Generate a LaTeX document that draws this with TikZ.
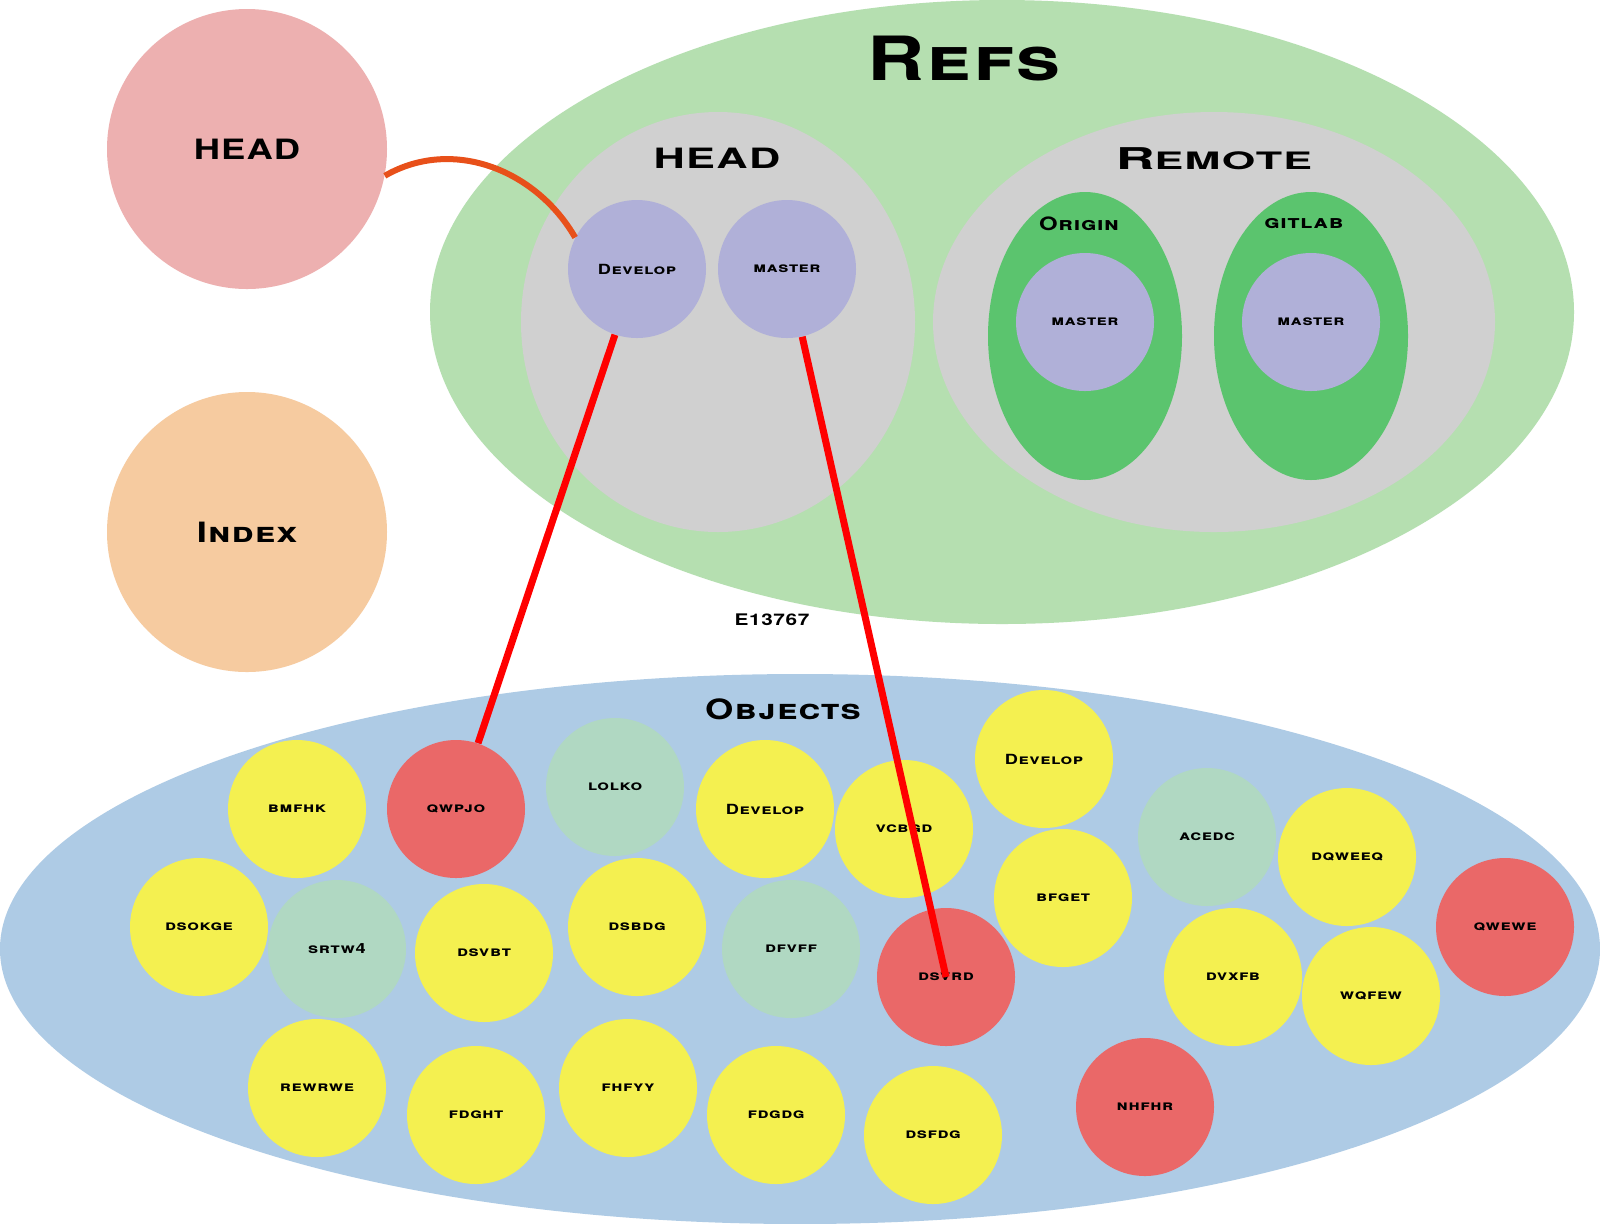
\documentclass[tikz,border=0pt]{standalone}
\usepackage{fontspec}
\setmainfont{TeX Gyre Heros}[FakeStretch=1.3,LetterSpace=4]
\usepackage{xcolor}
\usepackage{graphicx}
\usepackage{tikz}

\definecolor{headpink}{HTML}{EDB0B0}
\definecolor{indexpeach}{HTML}{F6CBA0}
\definecolor{refsgreen}{HTML}{B5DFB0}
\definecolor{boxgray}{HTML}{D0D0D0}
\definecolor{remotegreen}{HTML}{5BC46E}
\definecolor{branchlilac}{HTML}{B0B0D8}
\definecolor{objblue}{HTML}{AECBE5}
\definecolor{objyellow}{HTML}{F4F050}
\definecolor{objred}{HTML}{EA6868}
\definecolor{objmint}{HTML}{B0D8C2}
\definecolor{linkorange}{HTML}{E8501A}

\begin{document}
\begin{tikzpicture}[x=0.5pt, y=0.5pt,
    big/.style={font=\fontsize{14}{16}\selectfont\bfseries\scshape},
    sub/.style={font=\fontsize{9.2}{11}\selectfont\bfseries\scshape},
    blob/.style={circle, inner sep=0pt, minimum size=69pt, font=\fontsize{7}{8}\selectfont\bfseries\scshape},
    branch/.style={blob, fill=branchlilac},
    yel/.style={blob, fill=objyellow},
    rd/.style={blob, fill=objred},
    mnt/.style={blob, fill=objmint},
    link/.style={line width=3.5pt, red}]
    \useasboundingbox[fill=white] (0,0) rectangle (1600,-1223);

    % left circles
    \node[circle, fill=headpink, minimum size=140pt, big] (headp) at (247,-149) {HEAD};
    \node[circle, fill=indexpeach, minimum size=140pt, big] (index) at (247,-532) {Index};

    % refs
    \fill[refsgreen] (1002,-312) ellipse [x radius=286pt, y radius=156pt];
    \node[font=\fontsize{30.5}{33}\selectfont\bfseries\scshape] (refslbl) at (964,-59) {Refs};
    \fill[boxgray] (718,-322) ellipse [x radius=98.5pt, y radius=105pt];
    \fill[boxgray] (1214,-322) ellipse [x radius=140.5pt, y radius=105pt];
    \node[big] (headlbl) at (717,-158) {\scalebox{1.19}[1]{HEAD}};
    \node[font=\bfseries] (remotelbl) at (1214,-159)
        {\scalebox{1.38}[1]{\fontsize{15}{17}\selectfont R\fontsize{12}{14}\selectfont EMOTE}};
    \fill[remotegreen] (1085,-336) ellipse [x radius=48.5pt, y radius=72pt];
    \fill[remotegreen] (1311,-336) ellipse [x radius=48.5pt, y radius=72pt];
    \node[sub] (originlbl) at (1079,-224) {Origin};
    \node[sub] (gitlablbl) at (1304,-224) {gitlab};

    \node[branch] (develop) at (637,-269) {Develop};
    \node[branch] (master) at (787,-269) {master};
    \node[branch] (originmaster) at (1085,-322) {master};
    \node[branch] (gitlabmaster) at (1311,-322) {master};

    \node[font=\fontsize{8}{9}\selectfont\bfseries] (hash) at (772,-620) {E13767};

    % objects
    \fill[objblue] (800,-949) ellipse [x radius=400pt, y radius=137.5pt];
    \node[big] (objlbl) at (783,-709) {Objects};

    \node[yel] (bmfhk) at (297,-809) {bmfhk};
    \node[rd]  (qwpjo) at (456,-809) {qwpjo};
    \node[mnt] (lolko) at (615,-787) {lolko};
    \node[yel] (objdevelop) at (765,-809) {Develop};
    \node[yel] (vcbgd) at (904,-829) {vcbgd};
    \node[yel] (objdeveloptwo) at (1044,-759) {Develop};
    \node[mnt] (acedc) at (1207,-837) {acedc};
    \node[yel] (dqweeq) at (1347,-857) {dqweeq};
    \node[rd]  (qwewe) at (1505,-927) {qwewe};
    \node[yel] (dsokge) at (199,-927) {dsokge};
    \node[mnt] (srtw) at (337,-949) {srtw4};
    \node[yel] (dsvbt) at (484,-953) {dsvbt};
    \node[yel] (dsbdg) at (637,-927) {dsbdg};
    \node[mnt] (dfvff) at (791,-949) {dfvff};
    \node[rd]  (dsvrd) at (946,-977) {dsvrd};
    \node[yel] (bfget) at (1063,-898) {bfget};
    \node[yel] (dvxfb) at (1233,-977) {dvxfb};
    \node[yel] (wqfew) at (1371,-996) {wqfew};
    \node[yel] (rewrwe) at (317,-1088) {rewrwe};
    \node[yel] (fdght) at (476,-1115) {fdght};
    \node[yel] (fhfyy) at (628,-1088) {fhfyy};
    \node[yel] (fdgdg) at (776,-1115) {fdgdg};
    \node[yel] (dsfdg) at (933,-1135) {dsfdg};
    \node[rd]  (nhfhr) at (1145,-1107) {nhfhr};

    % links
    \draw[line width=3pt, linkorange] (headp.-11) to[out=30, in=120] (develop.153);
    \draw[link] (develop) -- (qwpjo);
    \draw[link] (master) -- (dsvrd.center);
\end{tikzpicture}
\end{document}
